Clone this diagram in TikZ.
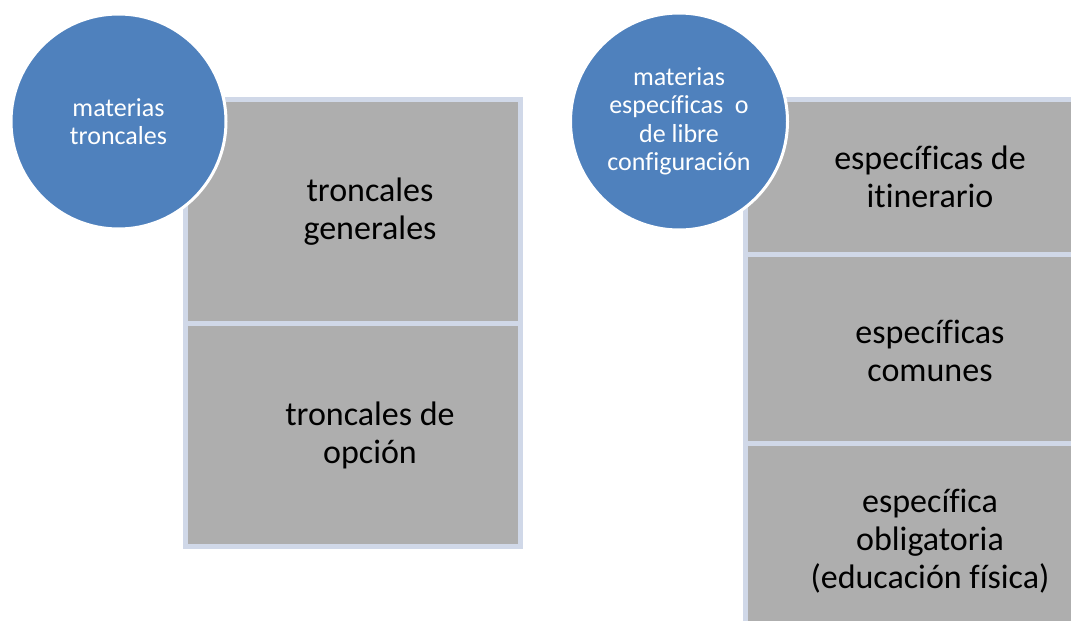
\documentclass[tikz,border=0pt]{standalone}
\usepackage{fontspec}
\setmainfont{Carlito}[Ligatures=NoCommon]
\usepackage{xcolor}
\usetikzlibrary{shapes.geometric, positioning}
\definecolor{circblue}{HTML}{4F81BD}
\definecolor{boxgray}{HTML}{AEAEAE}
\definecolor{boxline}{HTML}{D0D8E8}
\tikzstyle{topic} = [circle, minimum size=215pt, inner sep=0pt, fill=circblue, draw=white, line width=3pt, text=white, align=center, font=\fontsize{26}{28.5}\selectfont]
\tikzstyle{box} = [rectangle, minimum width=335pt, inner sep=0pt, outer sep=0pt, fill=boxgray, draw=boxline, line width=5pt, anchor=north west]
\tikzstyle{boxtext} = [align=center, text=black, font=\fontsize{34}{38}\selectfont]

\begin{document}
\begin{tikzpicture}[x=1pt, y=-1pt]
        \useasboundingbox (0,0) rectangle (1071,621);
        \fill[white] (0,0) rectangle (1071,621);
        \clip (0,0) rectangle (1071,621);
        % troncales
        \node (tg) [box, minimum height=224pt] at (185.5,99.5) {};
        \node (to) [box, minimum height=223pt, below=0pt of tg] {};
        \node (tgt) [boxtext] at ([xshift=17pt]tg.center) {troncales\\generales};
        \node (tot) [boxtext] at ([xshift=17pt]to.center) {troncales de\\opción};
        \node (mt) [topic] at (118.5,121.5) {materias\\troncales};
        % especificas
        \node (ei) [box, minimum height=155pt] at (745.5,99.5) {};
        \node (ec) [box, minimum height=189pt, below=0pt of ei] {};
        \node (eo) [box, minimum height=189pt, below=0pt of ec] {};
        \node (eit) [boxtext] at ([xshift=17pt]ei.center) {específicas de\\itinerario};
        \node (ect) [boxtext] at ([xshift=17pt,yshift=-2pt]ec.center) {específicas\\comunes};
        \node (eot) [boxtext] at ([xshift=17pt,yshift=-3pt]eo.center) {específica\\obligatoria\\(educación física)};
        \node (me) [topic, minimum size=217pt] at (679,121.5) {materias\\específicas~ o\\de libre\\configuración};
    \end{tikzpicture}
\end{document}
